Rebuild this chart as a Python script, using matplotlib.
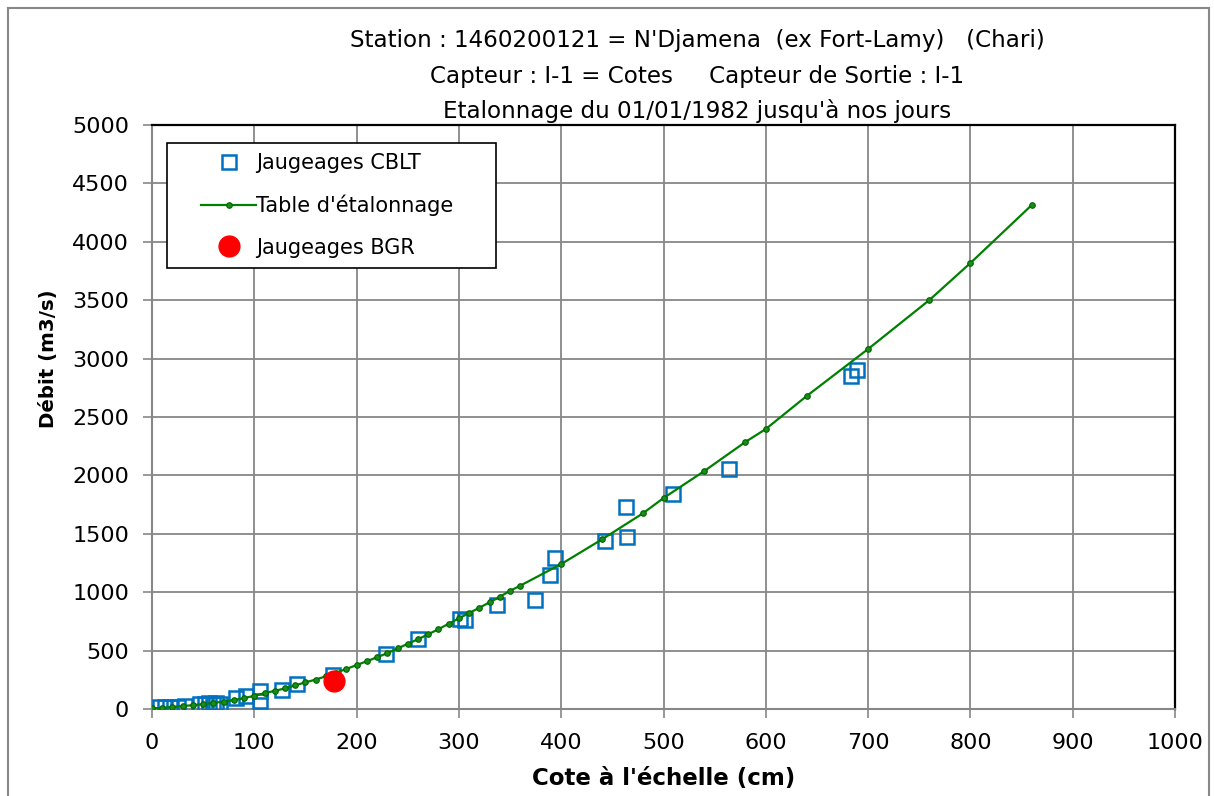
import matplotlib
matplotlib.use('Agg')
import matplotlib.pyplot as plt
from matplotlib.lines import Line2D
from matplotlib.patches import Rectangle

plt.rcParams['font.family'] = ['DejaVu Sans']

# Jaugeages CBLT (cote cm, debit m3/s)
cblt_h = [8, 13, 18, 25, 32, 47, 52, 56, 60, 63, 66, 82, 92, 106, 106, 127, 142, 177,
          229, 260, 301, 306, 337, 374, 389, 394, 443, 463, 464, 509, 564, 683, 689]
cblt_q = [15, 18, 15, 20, 22, 45, 40, 50, 40, 55, 45, 90, 110, 150, 65, 160, 210, 290,
          475, 600, 773, 762, 890, 933, 1145, 1295, 1435, 1730, 1475, 1841, 2052, 2855, 2900]

# Table d'etalonnage
table_h = [0, 10, 20, 30, 40, 50, 60, 70, 80, 90, 100, 110, 120, 130, 140, 150, 160, 170,
           180, 190, 200, 210, 220, 230, 240, 250, 260, 270, 280, 290, 300, 310, 320, 330,
           340, 350, 360, 400, 440, 480, 500, 540, 580, 600, 640, 700, 760, 800, 860]
table_q = [5, 10, 17, 25, 33, 42, 52, 63, 76, 93, 113, 135, 156, 176, 203, 228, 252, 280,
           311, 343, 376, 409, 443, 478, 518, 558, 597, 640, 683, 730, 776, 822, 867, 913,
           961, 1012, 1056, 1241, 1453, 1676, 1806, 2038, 2286, 2397, 2680, 3082, 3502, 3818, 4315]

# Jaugeages BGR
bgr_h = [178]
bgr_q = [237]

title_lines = ["Station : 1460200121 = N'Djamena  (ex Fort-Lamy)   (Chari)",
               "Capteur : I-1 = Cotes     Capteur de Sortie : I-1",
               "Etalonnage du 01/01/1982 jusqu'\u00e0 nos jours"]

W, H = 1214, 796
fig = plt.figure(figsize=(W / 100, H / 100), dpi=100)
ax = fig.add_axes([152 / W, 1 - 709 / H, (1175 - 152) / W, (709 - 125) / H])

grid_c = '#878787'
ax.plot(cblt_h, cblt_q, linestyle='none', marker='s', markersize=10,
        markerfacecolor='none', markeredgecolor='#0070C0', markeredgewidth=1.8,
        label='Jaugeages CBLT', zorder=3)
ax.plot(table_h, table_q, color='#008000', linewidth=1.6, marker='o', markersize=4,
        markerfacecolor='#1a8c1a', markeredgecolor='#006400', markeredgewidth=0.8,
        label="Table d'\u00e9talonnage", zorder=4)
ax.plot(bgr_h, bgr_q, linestyle='none', marker='o', markersize=15, color='#FF0000',
        label='Jaugeages BGR', zorder=5)

ax.set_xlim(0, 1000)
ax.set_ylim(0, 5000)
ax.set_xticks(range(0, 1001, 100))
ax.set_yticks(range(0, 5001, 500))
ax.grid(True, color=grid_c, linewidth=1.3)
ax.set_axisbelow(True)
ax.tick_params(direction='out', length=6.5, width=1.2, color=grid_c, labelsize=16)
ax.tick_params(axis='y', pad=10)
ax.tick_params(axis='x', pad=11)
for s in ['left', 'bottom']:
    ax.spines[s].set_color(grid_c)
    ax.spines[s].set_linewidth(1.5)
for s in ['top', 'right']:
    ax.spines[s].set_color('black')
    ax.spines[s].set_linewidth(1.6)

ax.set_xlabel("Cote \u00e0 l'\u00e9chelle (cm)", fontsize=16.5, fontweight='bold', labelpad=10)
ax.set_ylabel("D\u00e9bit (m3/s)", fontsize=14.2, fontweight='bold')
ax.yaxis.set_label_coords(-0.092, 0.6)

for i, t in enumerate(title_lines):
    fig.text(697 / W, 1 - (41 + 35 * i) / H, t, ha='center', va='center', fontsize=16.6)

# legend frame drawn by hand, legend itself without frame
frame = Rectangle((167 / W, 1 - 268 / H), (496 - 167) / W, (268 - 143) / H,
                  transform=fig.transFigure, facecolor='white', edgecolor='black',
                  linewidth=1.2, zorder=6, clip_on=False)
ax.add_artist(frame)
leg = ax.legend(loc='upper left', bbox_to_anchor=(197 / W, 1 - 149 / H),
                bbox_transform=fig.transFigure, fontsize=15, frameon=False,
                borderpad=0.2, labelspacing=1.03, handlelength=2.65, handletextpad=0.0,
                borderaxespad=0)
leg.set_zorder(7)

# outer chart frame
for xs, ys in [([8, 8], [796, 8]), ([8, 1209], [8, 8]), ([1209, 1209], [8, 796])]:
    fig.add_artist(Line2D([x / W for x in xs], [1 - y / H for y in ys], color='#888888',
                          linewidth=1.5, transform=fig.transFigure))

plt.savefig('out.png', dpi=100)
